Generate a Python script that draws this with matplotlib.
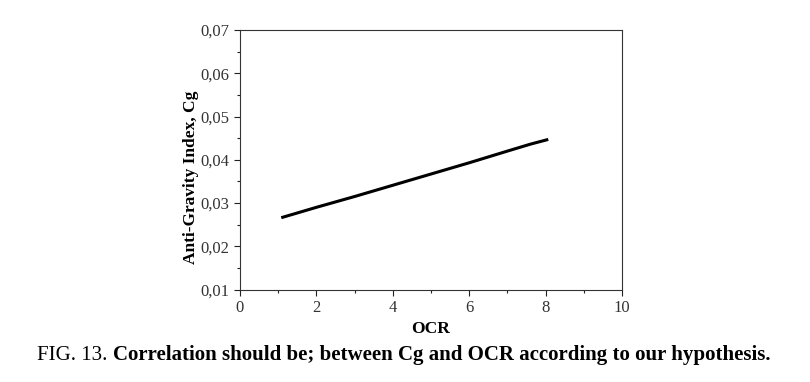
import matplotlib
matplotlib.use("Agg")
import matplotlib.pyplot as plt
from matplotlib.ticker import MultipleLocator, FuncFormatter

ocr = [1.08, 2.0, 3.0, 4.0, 5.0, 6.0, 7.0, 7.6, 8.07]
cg = [0.0266, 0.0290, 0.0315, 0.0341, 0.0367, 0.0393, 0.0420, 0.0436, 0.0447]

plt.rcParams['font.family'] = ['Liberation Serif', 'DejaVu Serif']

fig = plt.figure(figsize=(8.10, 3.82), dpi=100)
ax = fig.add_axes([240/810, 1 - 289.5/382, (622-240)/810, (289.5-30)/382])

ax.plot(ocr, cg, color='black', linewidth=2.2, solid_capstyle='butt')

ax.set_xlim(0, 10)
ax.set_ylim(0.01, 0.07)
ax.xaxis.set_major_locator(MultipleLocator(2))
ax.xaxis.set_minor_locator(MultipleLocator(1))
ax.yaxis.set_major_locator(MultipleLocator(0.01))
ax.yaxis.set_minor_locator(MultipleLocator(0.005))
ax.yaxis.set_major_formatter(FuncFormatter(lambda v, p: f"{v:.2f}".replace('.', ',')))
ax.xaxis.set_major_formatter(FuncFormatter(lambda v, p: f"{v:.0f}"))
ax.tick_params(which='both', direction='out', top=False, right=False, labelsize=12, colors='#222222', labelcolor='#333333')
ax.tick_params(which='major', length=4, width=0.8)
ax.tick_params(which='minor', length=2.5, width=0.8)
for s in ax.spines.values():
    s.set_linewidth(0.8)
    s.set_color('#333333')

ax.set_xlabel('OCR', fontsize=12.5, fontweight='bold')
ax.set_ylabel('Anti-Gravity Index, Cg', fontsize=12.5, fontweight='bold')
ax.xaxis.set_label_coords(0.5, (289.5-321)/259.5)
ax.yaxis.set_label_coords((199-240)/382, (289.5-177)/259.5)

t1 = fig.text(37/810, 1 - 355/382, 'FIG. 13. ', fontsize=15, va='center', ha='left')
fig.canvas.draw()
bb = t1.get_window_extent()
fig.text(bb.x1/810, 1 - 355/382, 'Correlation should be; between Cg and OCR according to our hypothesis.',
         fontsize=15, fontweight='bold', va='center', ha='left')

fig.savefig('out.png', dpi=100)
